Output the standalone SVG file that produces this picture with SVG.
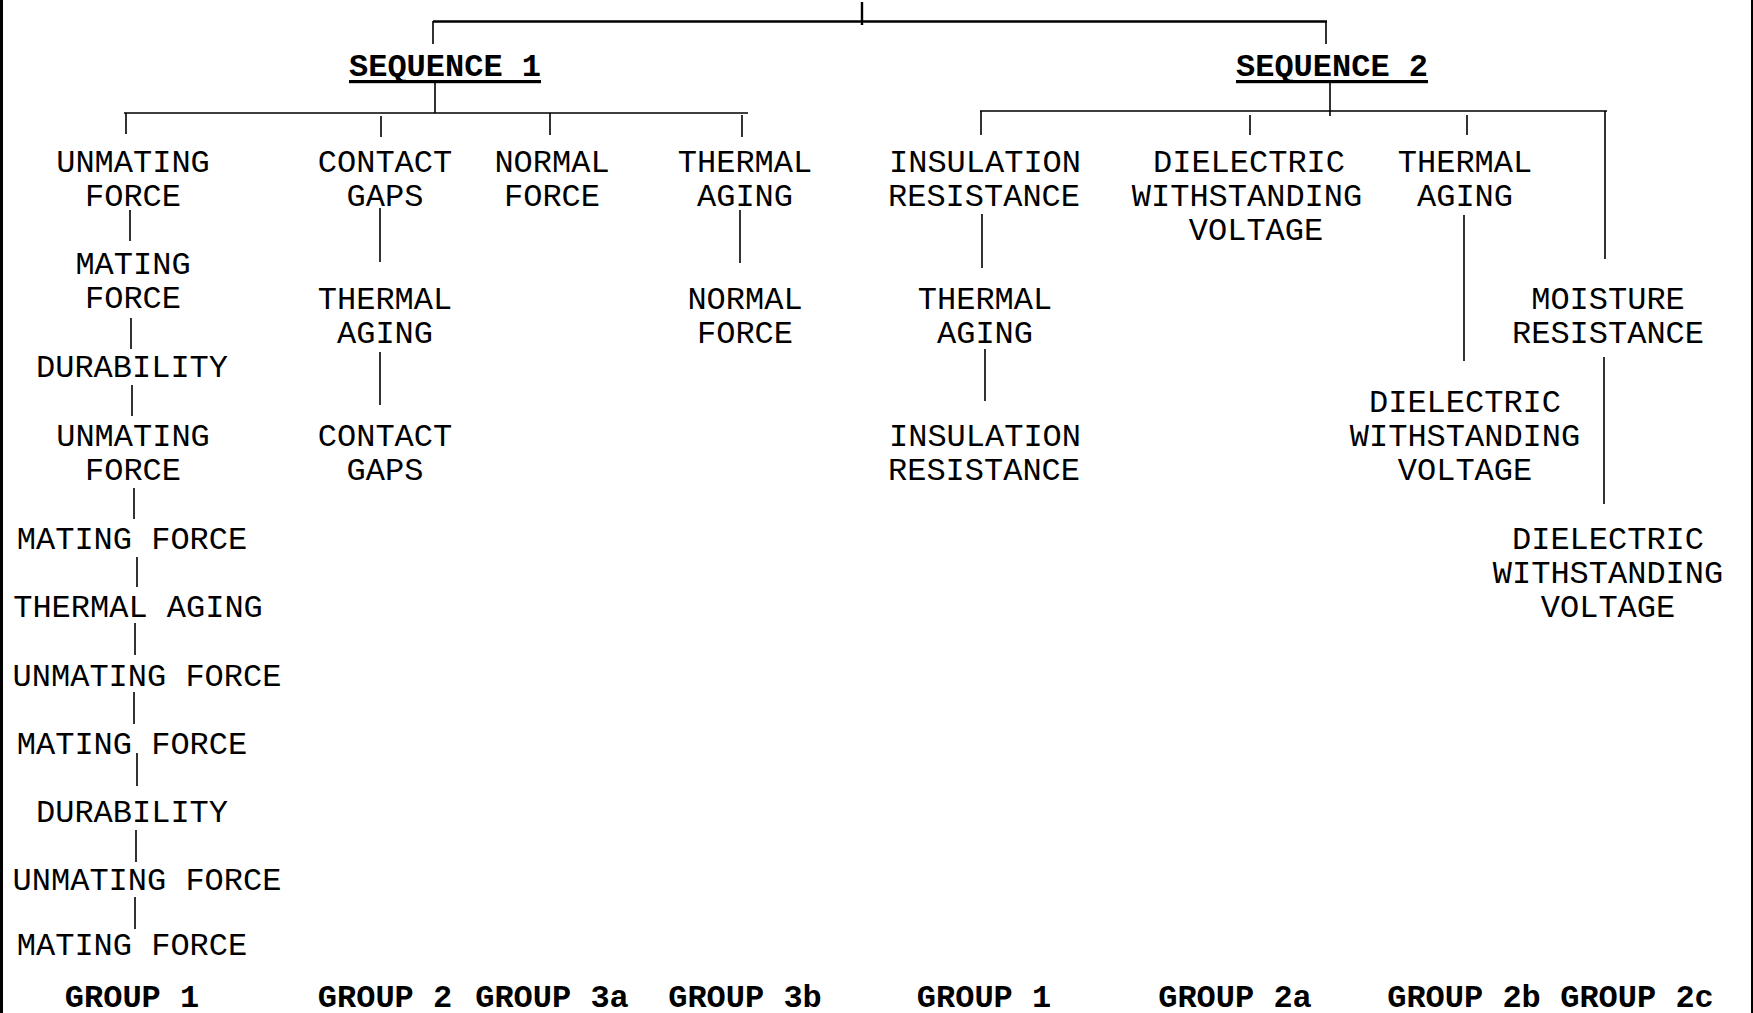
<svg xmlns="http://www.w3.org/2000/svg" width="1753" height="1013" viewBox="0 0 1753 1013">
<style>
text{font-family:"Liberation Mono","Courier New",monospace;font-size:32px;fill:#000;text-anchor:middle}
.b{font-weight:bold}
.c path{stroke:#000;stroke-width:1.6;fill:none}
.c path.t{stroke-width:2.4}
</style>
<rect x="0" y="0" width="1753" height="1013" fill="#fff"/>
<rect x="0" y="0" width="3" height="1013" fill="#000"/>
<rect x="1751" y="0" width="2" height="1013" fill="#000"/>
<g class="c" id="connectors">
<path class="t" d="M862,2V25"/>
<path class="t" d="M433,21.5H1327"/>
<path d="M433,21V44M1326,21V44"/>
<path d="M435,83V113M124,113H748M126,113V134M381,116V137M550,113V135M742,115V137"/>
<path d="M130,210V241M131,318V349M132,385V416M134,488V519M137,557V587M135,623V655M134,692V724M137,753V786M136,830V862M135,897V929"/>
<path d="M380,208V262M380,352V405"/>
<path d="M740,210V263"/>
<path d="M1330,83V116M980,111H1607M981,111V135M1250,115V135M1467,115V135M1605,111V259"/>
<path d="M982,214V268M985,349V401M1464,215V361M1604,357V504"/>
</g>
<g transform="translate(0,1.5)">
<g id="seq1">
<text class="b" x="445" y="74">SEQUENCE 1</text>
<rect x="349" y="78.5" width="192" height="3.2" fill="#000"/>
</g>
<g id="seq2">
<text class="b" x="1332" y="74">SEQUENCE 2</text>
<rect x="1236" y="78.5" width="192" height="3.2" fill="#000"/>
</g>
<g id="s1g1-1"><text><tspan x="133" y="170">UNMATING</tspan><tspan x="133" y="204">FORCE</tspan></text></g>
<g id="s1g1-2"><text><tspan x="133" y="272">MATING</tspan><tspan x="133" y="306">FORCE</tspan></text></g>
<g id="s1g1-3"><text x="132" y="375">DURABILITY</text></g>
<g id="s1g1-4"><text><tspan x="133" y="444">UNMATING</tspan><tspan x="133" y="478">FORCE</tspan></text></g>
<g id="s1g1-5"><text x="132" y="547">MATING FORCE</text></g>
<g id="s1g1-6"><text x="138" y="615">THERMAL AGING</text></g>
<g id="s1g1-7"><text x="147" y="684">UNMATING FORCE</text></g>
<g id="s1g1-8"><text x="132" y="752">MATING FORCE</text></g>
<g id="s1g1-9"><text x="132" y="820">DURABILITY</text></g>
<g id="s1g1-10"><text x="147" y="888">UNMATING FORCE</text></g>
<g id="s1g1-11"><text x="132" y="953">MATING FORCE</text></g>
<g id="s1g2-1"><text><tspan x="385" y="170">CONTACT</tspan><tspan x="385" y="204">GAPS</tspan></text></g>
<g id="s1g2-2"><text><tspan x="385" y="307">THERMAL</tspan><tspan x="385" y="341">AGING</tspan></text></g>
<g id="s1g2-3"><text><tspan x="385" y="444">CONTACT</tspan><tspan x="385" y="478">GAPS</tspan></text></g>
<g id="s1g3a-1"><text><tspan x="552" y="170">NORMAL</tspan><tspan x="552" y="204">FORCE</tspan></text></g>
<g id="s1g3b-1"><text><tspan x="745" y="170">THERMAL</tspan><tspan x="745" y="204">AGING</tspan></text></g>
<g id="s1g3b-2"><text><tspan x="745" y="307">NORMAL</tspan><tspan x="745" y="341">FORCE</tspan></text></g>
<g id="s2g1-1"><text><tspan x="985" y="170">INSULATION</tspan><tspan x="984" y="204">RESISTANCE</tspan></text></g>
<g id="s2g1-2"><text><tspan x="985" y="307">THERMAL</tspan><tspan x="985" y="341">AGING</tspan></text></g>
<g id="s2g1-3"><text><tspan x="985" y="444">INSULATION</tspan><tspan x="984" y="478">RESISTANCE</tspan></text></g>
<g id="s2g2a-1"><text><tspan x="1249" y="170">DIELECTRIC</tspan><tspan x="1247" y="204">WITHSTANDING</tspan><tspan x="1256" y="238">VOLTAGE</tspan></text></g>
<g id="s2g2b-1"><text><tspan x="1465" y="170">THERMAL</tspan><tspan x="1465" y="204">AGING</tspan></text></g>
<g id="s2g2b-2"><text><tspan x="1465" y="410">DIELECTRIC</tspan><tspan x="1465" y="444">WITHSTANDING</tspan><tspan x="1465" y="478">VOLTAGE</tspan></text></g>
<g id="s2g2c-1"><text><tspan x="1608" y="307">MOISTURE</tspan><tspan x="1608" y="341">RESISTANCE</tspan></text></g>
<g id="s2g2c-2"><text><tspan x="1608" y="547">DIELECTRIC</tspan><tspan x="1608" y="581">WITHSTANDING</tspan><tspan x="1608" y="615">VOLTAGE</tspan></text></g>
<g id="labels">
<text class="b" x="132" y="1005">GROUP 1</text>
<text class="b" x="385" y="1005">GROUP 2</text>
<text class="b" x="552" y="1005">GROUP 3a</text>
<text class="b" x="745" y="1005">GROUP 3b</text>
<text class="b" x="984" y="1005">GROUP 1</text>
<text class="b" x="1235" y="1005">GROUP 2a</text>
<text class="b" x="1464" y="1005">GROUP 2b</text>
<text class="b" x="1637" y="1005">GROUP 2c</text>
</g>
</g>
</svg>
